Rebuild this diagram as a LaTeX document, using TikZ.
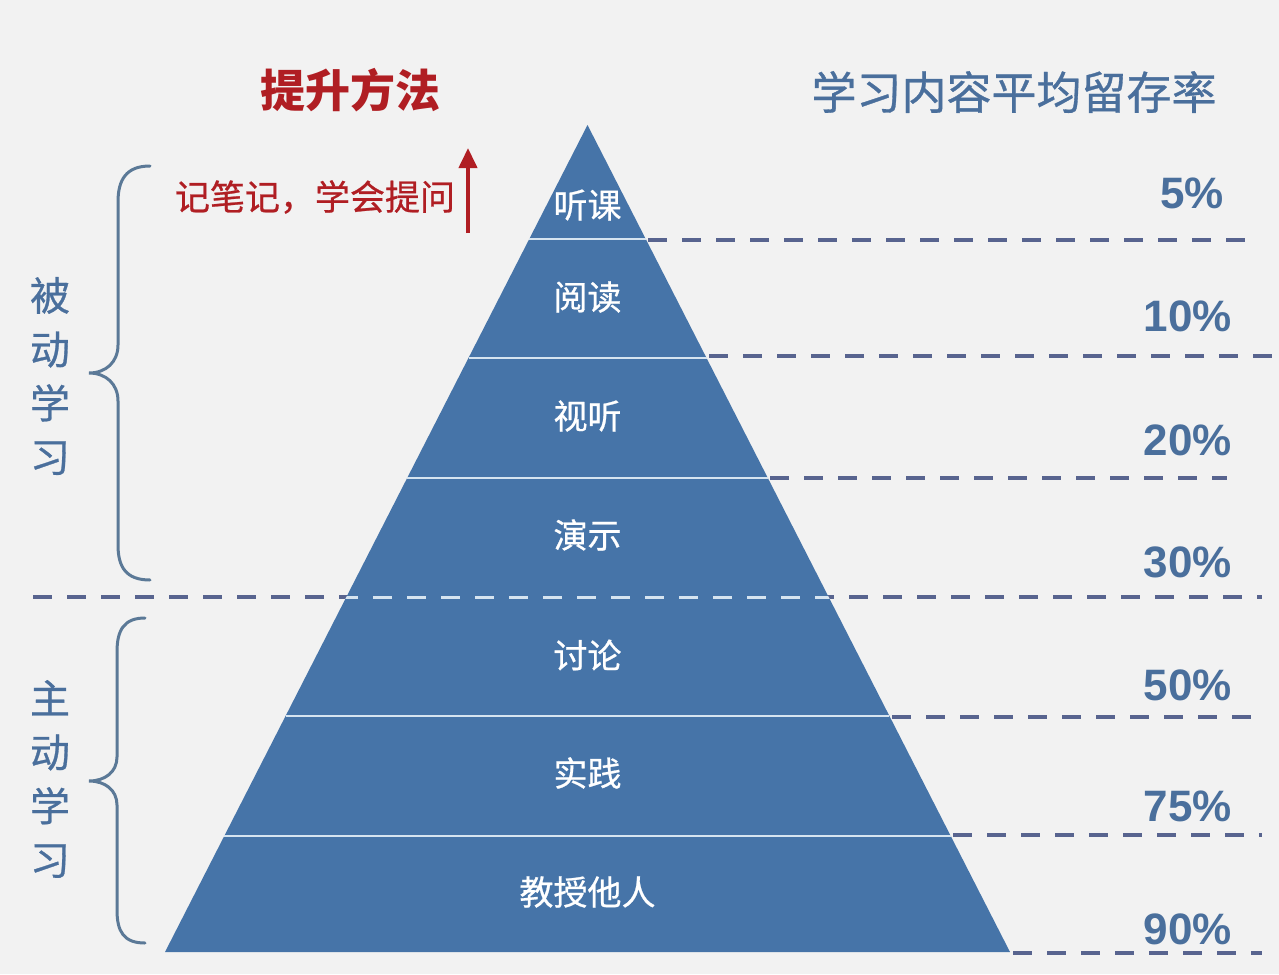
\documentclass[tikz,border=0pt]{standalone}
\usepackage{fontspec}
\setmainfont{Liberation Sans}
\newfontfamily\cjk{Noto Sans CJK SC}
\newfontfamily\cjkm[FakeBold=0.7]{Noto Sans CJK SC}
\usetikzlibrary{arrows.meta}
\definecolor{bgc}{RGB}{242,242,242}
\definecolor{pyrc}{RGB}{70,116,168}
\definecolor{sepc}{RGB}{214,228,240}
\definecolor{redc}{RGB}{176,30,35}
\definecolor{bluet}{RGB}{74,111,156}
\definecolor{bracec}{RGB}{91,121,151}
\definecolor{dashc}{RGB}{88,100,143}
\tikzset{
  layerlabel/.style={text=white, font=\cjkm\fontsize{17}{20}\selectfont},
  pct/.style={text=bluet, font=\bfseries\fontsize{22}{26}\selectfont},
  dashline/.style={draw=dashc, line width=2.3pt, dash pattern=on 9.5pt off 7.5pt},
  lightdash/.style={draw=sepc, line width=1.5pt, dash pattern=on 9.5pt off 7.5pt},
  sepline/.style={draw=sepc, line width=1.3pt},
  bracestyle/.style={draw=bracec, line width=1.5pt, line cap=round},
  sidelabel/.style={text=bluet, align=center, font=\cjkm\fontsize{20}{26.9}\selectfont},
}
\begin{document}
\begin{tikzpicture}[x=0.5pt,y=-0.5pt]
\fill[bgc] (0,0) rectangle (1279,974);
\useasboundingbox (0,0) rectangle (1279,974);

% full-width dashed line (passive / active boundary)
\coordinate (dl0) at (33,597);
\coordinate (dr0) at (1262,597);
\draw[dashline] (dl0) -- (dr0);

% pyramid
\coordinate (apex) at (587.5,125);
\coordinate (bl) at (165,952);
\coordinate (br) at (1010,952);
\fill[pyrc] (apex) -- (br) -- (bl) -- cycle;
\begin{scope}
  \clip (apex) -- (br) -- (bl) -- cycle;
  \draw[lightdash] (dl0) -- (dr0);
\end{scope}

% layer separators
\draw[sepline] (529.3,239) -- (645.7,239);
\draw[sepline] (468.5,358) -- (706.5,358);
\draw[sepline] (407.2,478) -- (767.8,478);
\draw[sepline] (285.6,716) -- (889.4,716);
\draw[sepline] (224.3,836) -- (950.7,836);

% right dashed lines
\draw[dashline] (648,240) -- (1247,240);
\draw[dashline] (709,356) -- (1279,356);
\draw[dashline] (770,478) -- (1227,478);
\draw[dashline] (892,717) -- (1253,717);
\draw[dashline] (953,835) -- (1262,835);
\draw[dashline] (1013,953) -- (1262,953);

% layer labels
\node[layerlabel] (l1) at (587.5,205) {听课};
\node[layerlabel] (l2) at (587.5,297) {阅读};
\node[layerlabel] (l3) at (587.5,416) {视听};
\node[layerlabel] (l4) at (587.5,535) {演示};
\node[layerlabel] (l5) at (587.5,655) {讨论};
\node[layerlabel] (l6) at (587.5,773) {实践};
\node[layerlabel] (l7) at (587.5,892) {教授他人};

% percentages
\node[pct] (p1) at (1192,193) {5\%};
\node[pct] (p2) at (1188,316) {10\%};
\node[pct] (p3) at (1188,440) {20\%};
\node[pct] (p4) at (1188,562) {30\%};
\node[pct] (p5) at (1188,685) {50\%};
\node[pct] (p6) at (1188,806) {75\%};
\node[pct] (p7) at (1188,929) {90\%};

% titles
\node[text=redc, font=\cjk\bfseries\fontsize{22.5}{27}\selectfont] (t1) at (350,90) {提升方法};
\node[text=bluet, font=\cjkm\fontsize{22.5}{27}\selectfont] (t2) at (1014,92) {学习内容平均留存率};

% method + arrow
\node[text=redc, font=\cjkm\fontsize{17.5}{21}\selectfont] (m1) at (315,197) {记笔记，学会提问};
\coordinate (ab) at (468,233);
\coordinate (at) at (468,148);
\draw[draw=redc, line width=2pt, -{Triangle[length=10pt,width=9pt]}] (ab) -- (at);

% braces
\draw[bracestyle] (150,166) .. controls (126,166) and (118,180) .. (118,202) -- (118,345)
  .. controls (118,362) and (106,373) .. (89,373)
  .. controls (106,373) and (118,384) .. (118,401) -- (118,545)
  .. controls (118,567) and (126,580) .. (150,580);
\draw[bracestyle] (145,618) .. controls (124,618) and (117,630) .. (117,652) -- (117,757)
  .. controls (117,772) and (105,781) .. (89,781)
  .. controls (105,781) and (117,790) .. (117,805) -- (117,910)
  .. controls (117,932) and (124,943) .. (145,943);

% side labels
\node[sidelabel] (s1) at (50,376) {被\\动\\学\\习};
\node[sidelabel] (s2) at (50,779) {主\\动\\学\\习};
\end{tikzpicture}
\end{document}
